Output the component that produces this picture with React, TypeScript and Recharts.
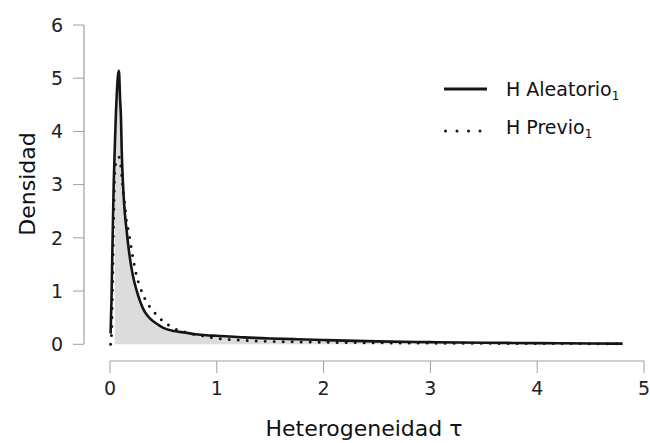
import React from "react";
import {
  ComposedChart,
  Line,
  Area,
  XAxis,
  YAxis,
  ReferenceLine,
  Legend,
  Label,
} from "recharts";

// valores de tau
const tau = [
  0.006, 0.015, 0.025, 0.035, 0.047, 0.056, 0.065, 0.075, 0.084, 0.095, 0.103,
  0.11, 0.125, 0.14, 0.156, 0.175, 0.2, 0.225, 0.25, 0.28, 0.31, 0.35, 0.4,
  0.45, 0.5, 0.6, 0.7, 0.8, 0.9, 1.0, 1.25, 1.5, 1.75, 2.0, 2.5, 3.0, 3.5, 4.0,
  4.5, 4.8,
];

// densidad H Aleatorio (linea continua)
const hAleatorio = [
  0.2, 0.9, 2.0, 3.0, 3.8, 4.35, 4.75, 5.05, 5.14, 4.6, 4.27, 3.65, 2.9, 2.45,
  2.14, 1.8, 1.45, 1.2, 1.01, 0.82, 0.67, 0.54, 0.44, 0.37, 0.31, 0.25, 0.22,
  0.19, 0.17, 0.16, 0.13, 0.11, 0.095, 0.08, 0.055, 0.04, 0.03, 0.022, 0.015,
  0.012,
];

// densidad H Previo (linea punteada)
const hPrevio = [
  0.0, 0.2, 1.15, 2.45, 3.3, 3.42, 3.48, 3.51, 3.52, 3.45, 3.33, 3.18, 2.85,
  2.6, 2.3, 2.12, 1.8, 1.52, 1.28, 1.09, 0.93, 0.77, 0.64, 0.52, 0.43, 0.3,
  0.23, 0.18, 0.15, 0.11, 0.075, 0.055, 0.045, 0.038, 0.028, 0.022, 0.018,
  0.015, 0.012, 0.01,
];

const sombraDesde = 0.047;
const xTicks = [0, 1, 2, 3, 4, 5];
const yTicks = [0, 1, 2, 3, 4, 5, 6];

const data = tau.map((x, i) => ({
  x,
  aleatorio: hAleatorio[i],
  previo: hPrevio[i],
  sombra: x >= sombraDesde ? hAleatorio[i] : null,
}));

const font = "'DejaVu Sans', sans-serif";
const gris = "#a0a0a0";
const negro = "#151515";
const xMin = -0.243;
const yMin = -0.314;

function Leyenda() {
  const fila: React.CSSProperties = { position: "relative", height: 38 };
  const texto: React.CSSProperties = {
    position: "absolute",
    left: 62,
    top: 0,
    fontSize: 19,
    lineHeight: "normal",
    whiteSpace: "nowrap",
    color: "#111",
  };
  const sub: React.CSSProperties = { fontSize: 12, position: "relative", top: 4 };
  return (
    <div style={{ fontFamily: font, width: 200 }}>
      <div style={fila}>
        <svg width={50} height={38} style={{ position: "absolute", left: 0, top: 0 }}>
          <line x1={0} x2={43} y1={11} y2={11} stroke={negro} strokeWidth={3} />
        </svg>
        <span style={texto}>
          H Aleatorio<span style={sub}>1</span>
        </span>
      </div>
      <div style={fila}>
        <svg width={50} height={38} style={{ position: "absolute", left: 0, top: 0 }}>
          <line
            x1={1.5}
            x2={40}
            y1={15}
            y2={15}
            stroke={negro}
            strokeWidth={3}
            strokeDasharray="0 11.5"
            strokeLinecap="round"
          />
        </svg>
        <span style={texto}>
          H Previo<span style={sub}>1</span>
        </span>
      </div>
    </div>
  );
}

export default function App() {
  const tick = { fill: "#222", fontSize: 19, fontFamily: font };
  return (
    <div style={{ position: "absolute", left: 0, top: 0, background: "#fff" }}>
      <ComposedChart
        width={650}
        height={443}
        data={data}
        margin={{ top: 25, right: 6, left: 0, bottom: 0 }}
      >
        <XAxis
          dataKey="x"
          type="number"
          domain={[xMin, 5]}
          allowDataOverflow
          ticks={xTicks}
          axisLine={false}
          tickLine={{ stroke: gris }}
          tickSize={12}
          tickMargin={9}
          tick={tick}
          height={82}
        >
          <Label
            value="Heterogeneidad τ"
            position="insideBottom"
            offset={7}
            style={{ fontSize: 22, fontFamily: font, fill: "#111" }}
          />
        </XAxis>
        <YAxis
          type="number"
          domain={[yMin, 6]}
          allowDataOverflow
          ticks={yTicks}
          axisLine={false}
          tickLine={{ stroke: gris }}
          tickSize={11}
          tickMargin={10}
          tick={tick}
          width={84}
        >
          <Label
            value="Densidad"
            angle={-90}
            position="center"
            dx={-15}
            dy={-9}
            style={{ fontSize: 22, fontFamily: font, fill: "#111" }}
          />
        </YAxis>
        <ReferenceLine
          segment={[
            { x: 0, y: yMin },
            { x: 5, y: yMin },
          ]}
          stroke={gris}
          strokeWidth={1.2}
          ifOverflow="visible"
        />
        <ReferenceLine
          segment={[
            { x: xMin, y: 0 },
            { x: xMin, y: 6 },
          ]}
          stroke={gris}
          strokeWidth={1.2}
          ifOverflow="visible"
        />
        <Area
          dataKey="sombra"
          type="monotone"
          fill="#dcdcdc"
          fillOpacity={1}
          stroke="none"
          baseValue={0}
          isAnimationActive={false}
        />
        <Line
          dataKey="previo"
          type="monotone"
          stroke={negro}
          strokeWidth={3}
          strokeDasharray="0 9"
          strokeLinecap="round"
          dot={false}
          isAnimationActive={false}
        />
        <Line
          dataKey="aleatorio"
          type="monotone"
          stroke={negro}
          strokeWidth={2.6}
          dot={false}
          isAnimationActive={false}
        />
        <Legend
          layout="horizontal"
          align="center"
          verticalAlign="middle"
          content={() => <Leyenda />}
          wrapperStyle={{ position: "absolute", left: 444, top: 78, width: 200 }}
        />
      </ComposedChart>
    </div>
  );
}
